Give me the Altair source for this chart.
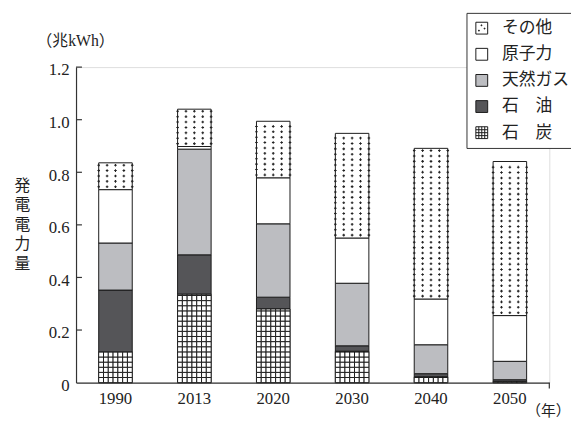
import altair as alt
import pandas as pd

# ---- data ----
years = ["1990", "2013", "2020", "2030", "2040", "2050"]
coal = [0.116, 0.336, 0.280, 0.119, 0.022, 0.004]
oil = [0.236, 0.150, 0.045, 0.021, 0.012, 0.007]
gas = [0.179, 0.402, 0.279, 0.238, 0.110, 0.070]
nuclear = [0.203, 0.010, 0.175, 0.172, 0.174, 0.174]
other = [0.102, 0.142, 0.215, 0.398, 0.573, 0.586]

sources = ["その他", "原子力", "天然ガス", "石　油", "石　炭"]
series = {"石　炭": coal, "石　油": oil, "天然ガス": gas, "原子力": nuclear, "その他": other}
stack_order = ["石　炭", "石　油", "天然ガス", "原子力", "その他"]
fills = ["white", "white", "#bcbdc1", "#555558", "white"]
y_ticks = [0, 0.2, 0.4, 0.6, 0.8, 1.0, 1.2]

# legend symbol shapes (unit-square paths)
SQ = "M-1,-1H1V1H-1Z"
DOTS = SQ + " M-0.12,-0.55h0.14v0.14h-0.14Z M0.4,0.0h0.14v0.14h-0.14Z M-0.55,0.35h0.14v0.14h-0.14Z"
GRID = SQ + " M-0.5,-1V1 M0,-1V1 M0.5,-1V1 M-1,-0.5H1 M-1,0H1 M-1,0.5H1"
shapes = [DOTS, SQ, SQ, SQ, GRID]

# ---- tables ----
rows = []
for i, y in enumerate(years):
    for k, s in enumerate(stack_order):
        rows.append({"year": y, "source": s, "value": series[s][i], "ord": k})
df = pd.DataFrame(rows)

# coal hatch cells (grid pattern)
CELL = 0.0195
cells = []
for i, y in enumerate(years):
    top = coal[i]
    r = 0
    while r * CELL < top - 1e-9:
        for c in range(7):
            cells.append({"year": y, "cc": c, "value": r * CELL, "cy1": min((r + 1) * CELL, top)})
        r += 1
cells_df = pd.DataFrame(cells)

# dotted pattern for "その他"
DOT = 0.0205
dots = []
for i, y in enumerate(years):
    lo = coal[i] + oil[i] + gas[i] + nuclear[i]
    hi = lo + other[i]
    v = lo + 0.011
    while v < hi - 0.005:
        for c in range(5):
            dots.append({"year": y, "dc": c, "value": v})
        v += DOT
dots_df = pd.DataFrame(dots)
ticks_df = pd.DataFrame({"value": y_ticks[1:]})

W, H = 480, 320
SERIF = "Liberation Serif"
SERIF_JP = "Liberation Serif, Noto Sans CJK JP"
JP = "Noto Sans CJK JP"
INK = "#222222"

xscale = alt.Scale(domain=years, paddingInner=0.575, paddingOuter=0.2875)
yscale = alt.Scale(domain=[0, 1.2], nice=False, zero=True)

leg = alt.Legend(
    title=None, orient="none", legendX=396, legendY=-55, padding=7,
    strokeColor="#333333", fillColor="white", symbolSize=144,
    symbolStrokeColor="#1a1a1a", symbolStrokeWidth=1, symbolFillColor="white",
    symbolOpacity=1,
    labelFontSize=17, labelFont=JP, labelColor=INK,
    rowPadding=8.5, labelOffset=12,
)

x_axis = alt.Axis(
    labelAngle=0, ticks=False, domainColor="#333333", domainWidth=1.2,
    labelPadding=8, labelFontSize=17, labelFont=SERIF, labelColor=INK,
    title="（年）", titleX=456, titleY=28, titleAlign="left", titleBaseline="middle",
    titleFontSize=15, titleFont=SERIF_JP, titleFontWeight="normal", titleColor=INK)
y_axis = alt.Axis(
    values=y_ticks, labelExpr="datum.value == 0 ? '0' : format(datum.value, '.1f')",
    tickSize=0, labelPadding=7, labelOffset=3, domainColor="#333333", domainWidth=1.2, grid=False,
    labelFontSize=17, labelFont=SERIF, labelColor=INK,
    title=["発", "電", "電", "力", "量"], titleAngle=0, titleX=-55, titleY=120,
    titleAlign="center", titleBaseline="middle", titleFontSize=16, titleLineHeight=19.75,
    titleFont=SERIF_JP, titleFontWeight="normal", titleColor=INK)

X = alt.X("year:N", scale=xscale, axis=x_axis)

# legend carrier: tiny points hidden beneath the bars
hidden = alt.Chart(df).mark_point(filled=True, size=1, opacity=1).encode(
    x=X,
    y=alt.Y("value:Q", stack=None, scale=yscale, axis=y_axis),
    fill=alt.Fill("source:N", scale=alt.Scale(domain=sources, range=fills), legend=leg),
    shape=alt.Shape("source:N", scale=alt.Scale(domain=sources, range=shapes), legend=leg),
    stroke=alt.Stroke("source:N", scale=alt.Scale(domain=sources, range=["#1a1a1a"] * 5), legend=leg),
)

bars = alt.Chart(df).mark_bar(stroke="#1a1a1a", strokeWidth=1).encode(
    x=X,
    y=alt.Y("value:Q", stack="zero", scale=yscale, axis=y_axis),
    fill=alt.Fill("source:N", scale=alt.Scale(domain=sources, range=fills), legend=None),
    order=alt.Order("ord:Q"),
)

coal_grid = alt.Chart(cells_df).mark_rect(fill="white", stroke="#111111", strokeWidth=0.9).encode(
    x=X,
    xOffset=alt.XOffset("cc:O", scale=alt.Scale(paddingInner=0, paddingOuter=0)),
    y=alt.Y("value:Q", scale=yscale, axis=y_axis),
    y2="cy1:Q",
)

dot_layer = alt.Chart(dots_df).mark_point(shape="cross", filled=True, size=7, color="#222222", opacity=1).encode(
    x=X,
    xOffset=alt.XOffset("dc:O", scale=alt.Scale(paddingInner=0, paddingOuter=0)),
    y=alt.Y("value:Q", scale=yscale, axis=y_axis),
)

ticks = alt.Chart(ticks_df).mark_rule(color="#333333", strokeWidth=1.2).encode(
    y=alt.Y("value:Q", scale=yscale, axis=y_axis),
    x=alt.value(0), x2=alt.value(6),
)

end_tick = alt.Chart(pd.DataFrame({"a": [0]})).mark_rule(color="#333333", strokeWidth=1.2).encode(
    x=alt.value(W), y=alt.value(H), y2=alt.value(H + 6),
)

unit = alt.Chart(pd.DataFrame({"label": ["（兆kWh）"]})).mark_text(
    align="left", baseline="middle", fontSize=16, font=SERIF_JP, color=INK
).encode(text="label:N", x=alt.value(-40), y=alt.value(-26))

chart = alt.layer(hidden, bars, coal_grid, dot_layer, ticks, end_tick, unit).resolve_scale(
    xOffset="independent"
).properties(
    width=W, height=H,
    autosize=alt.AutoSizeParams(type="none"),
    padding={"left": 69, "top": 57, "right": 22, "bottom": 38},
).configure_view(stroke=None).configure(background="white")

chart.save("out.html", embed_options={"renderer": "svg", "actions": False})
